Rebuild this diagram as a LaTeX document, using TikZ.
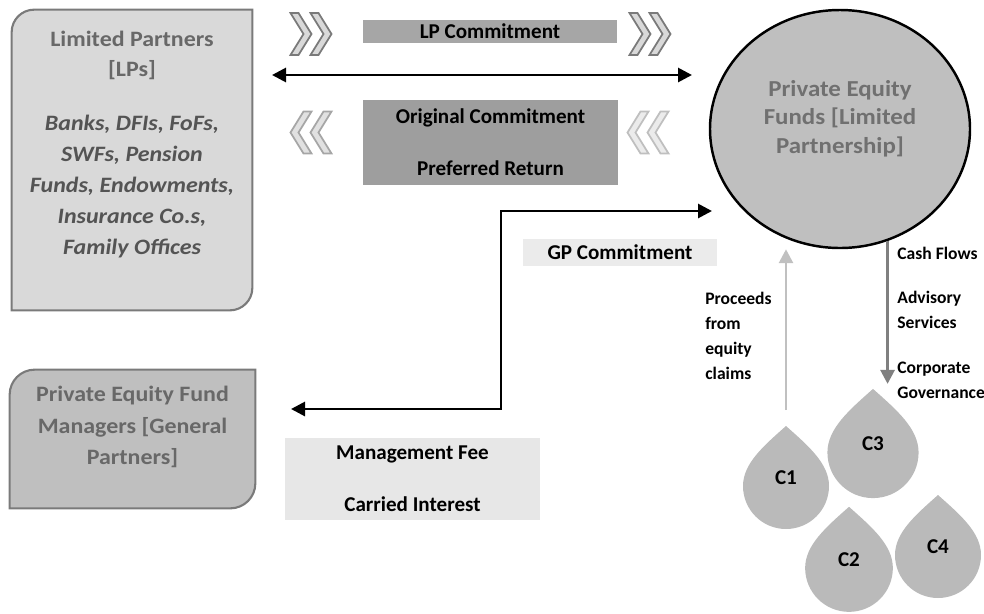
\documentclass[tikz,border=0pt]{standalone}
\usepackage{fontspec}
\setmainfont{Carlito}
\newfontfamily\widefont[FakeStretch=1.09]{Carlito}
\usepackage{tikz}
\usetikzlibrary{shapes.geometric, arrows.meta, positioning, calc}

\definecolor{lpfill}{RGB}{217,217,217}
\definecolor{gpfill}{RGB}{191,191,191}
\definecolor{boxedge}{RGB}{122,122,122}
\definecolor{headgray}{RGB}{104,104,104}
\definecolor{listgray}{RGB}{84,84,84}
\definecolor{pefgray}{RGB}{112,112,112}
\definecolor{darkbar}{RGB}{166,166,166}
\definecolor{lightbar}{RGB}{235,235,235}
\definecolor{feefill}{RGB}{231,231,231}
\definecolor{pefill}{RGB}{191,191,191}
\definecolor{dropfill}{RGB}{186,186,186}
\definecolor{uparr}{RGB}{192,192,192}
\definecolor{downarr}{RGB}{128,128,128}

\tikzset{
  chevrons/.pic={
    \foreach \dx in {-0.41,-0.01}
      \filldraw[pic actions] (\dx,0.42) -- ++(0.16,0) -- ++(0.26,-0.42)
        -- ++(-0.26,-0.42) -- ++(-0.16,0) -- ++(0.26,0.42) -- cycle;
  },
  cdrop/.pic={
    \fill[dropfill] (0,1.2) .. controls (0.45,0.8) and (0.86,0.45) .. (0.86,0)
      arc[start angle=0, end angle=-180, radius=0.86]
      .. controls (-0.86,0.45) and (-0.45,0.8) .. (0,1.2) -- cycle;
    \coordinate (-tip) at (0,1.2);
    \node[font=\bfseries\fontsize{12}{14}\selectfont] (-label) at (0,0.16) {#1};
  }
}

\begin{document}
\begin{tikzpicture}[
    sizebox/.style={inner sep=0pt},
    diagbox/.style={line width=1.2pt, draw=boxedge},
    bar/.style={
      inner sep=0pt,
      align=center,
      font=\bfseries\fontsize{12}{14}\selectfont
    },
    sidelabel/.style={
      inner sep=0pt,
      align=left,
      font=\bfseries\fontsize{10}{14.2}\selectfont
    },
    flow/.style={line width=1.6pt, {Triangle[length=2.8mm,width=2.8mm]}-{Triangle[length=2.8mm,width=2.8mm]}},
    grayflow/.style={line width=1.6pt, -{Triangle[length=2.8mm,width=2.8mm]}}
  ]
    \useasboundingbox (0,0) rectangle (19.68,-12.26);

    % Limited partners
    \node[sizebox, minimum width=4.8cm, minimum height=6cm] (lp) at (2.64,-3.2) {};
    \filldraw[diagbox, fill=lpfill] ($(lp.north west)+(0,-0.45)$) arc[start angle=180, end angle=90, radius=0.45]
      -- (lp.north east) -- ($(lp.south east)+(0,0.45)$) arc[start angle=0, end angle=-90, radius=0.45]
      -- (lp.south west) -- cycle;
    \node[sizebox, align=center, text=headgray, font=\widefont\bfseries\fontsize{12.5}{17}\selectfont,
      below=0.42cm of lp.north] (lphead) {Limited Partners\\{}[LPs]};
    \node[sizebox, align=center, text=listgray, font=\widefont\bfseries\itshape\fontsize{12.5}{17.6}\selectfont,
      below=0.7cm of lphead] (lplist) {Banks, DFIs, FoFs,\\SWFs, Pension\\Funds, Endowments,\\Insurance Co.s,\\Family Offices};

    % General partners
    \node[sizebox, minimum width=4.9cm, minimum height=2.76cm] (gp) at (2.65,-8.78) {};
    \filldraw[diagbox, fill=gpfill] ($(gp.north west)+(0,-0.5)$) arc[start angle=180, end angle=90, radius=0.5]
      -- (gp.north east) -- ($(gp.south east)+(0,0.5)$) arc[start angle=0, end angle=-90, radius=0.5]
      -- (gp.south west) -- cycle;
    \node[sizebox, align=center, text=headgray, font=\widefont\bfseries\fontsize{12.5}{17.8}\selectfont,
      below=0.33cm of gp.north] (gptext) {Private Equity Fund\\Managers [General\\Partners]};

    % fund
    \node[ellipse, draw=black, line width=1.4pt, fill=pefill, minimum width=5.2cm, minimum height=4.76cm] (pef) at (16.8,-2.58) {};
    \node[sizebox, align=center, text=pefgray, font=\widefont\bfseries\fontsize{13}{16.2}\selectfont] (peftext)
      at ([yshift=0.21cm]pef.center) {Private Equity\\Funds [Limited\\Partnership]};

    % bars
    \node[bar, fill=darkbar, minimum width=5.08cm, minimum height=0.46cm] (lpc) at (9.8,-0.63) {LP Commitment};
    \node[bar, fill=darkbar!95!black, minimum width=5.1cm, minimum height=1.7cm] (orig) at (9.81,-2.85)
      {Original Commitment\\[0.55cm]Preferred Return};
    \node[bar, fill=lightbar, minimum width=3.88cm, minimum height=0.54cm] (gpc) at (12.4,-5.05) {GP Commitment};
    \node[bar, fill=feefill, minimum width=5.1cm, minimum height=1.64cm] (fees) at (8.25,-9.58)
      {Management Fee\\[0.55cm]Carried Interest};

    % chevrons
    \pic[draw=boxedge, fill=lpfill, line width=1pt] at (6.22,-0.68) {chevrons};
    \pic[draw=boxedge, fill=lpfill, line width=1pt] at (13.0,-0.68) {chevrons};
    \pic[draw=darkbar, fill=lpfill!80, line width=1pt, xscale=-1] at (6.22,-2.65) {chevrons};
    \pic[draw=gpfill, fill=lightbar, line width=1pt, xscale=-1] at (12.96,-2.65) {chevrons};

    % portfolio companies
    \pic (c1) at (15.72,-9.72) {cdrop=C1};
    \pic[scale=1.06] (c3) at (17.46,-9.05) {cdrop=C3};
    \pic[scale=1.02] (c2) at (16.98,-11.36) {cdrop=C2};
    \pic (c4) at (18.76,-11.1) {cdrop=C4};

    % flows
    \coordinate (lpl) at (5.44,-1.5);
    \coordinate (lpr) at (13.84,-1.5);
    \draw[flow] (lpl) -- (lpr);

    \coordinate (gpin) at (5.82,-8.18);
    \coordinate (bend) at (10.02,-6.2);
    \coordinate (gpout) at (14.24,-4.22);
    \draw[flow] (gpin) -| (bend) |- (gpout);

    \draw[grayflow, draw=uparr] ([yshift=0.32cm]c1-tip) -- (c1-tip |- pef.south);
    \draw[grayflow, draw=downarr] (pef.-67) -- ([yshift=0.1cm]pef.-67 |- c3-tip);

    % labels
    \node[sidelabel, anchor=west] (proceeds) at (14.1,-6.71) {Proceeds\\from\\equity\\claims};
    \node[sidelabel, anchor=west] (cash) at (17.94,-5.06) {Cash Flows};
    \node[sidelabel, anchor=west] (advisory) at (17.94,-6.19) {Advisory\\Services};
    \node[sidelabel, anchor=west] (govern) at (17.94,-7.61) {Corporate\\Governance};
\end{tikzpicture}
\end{document}
